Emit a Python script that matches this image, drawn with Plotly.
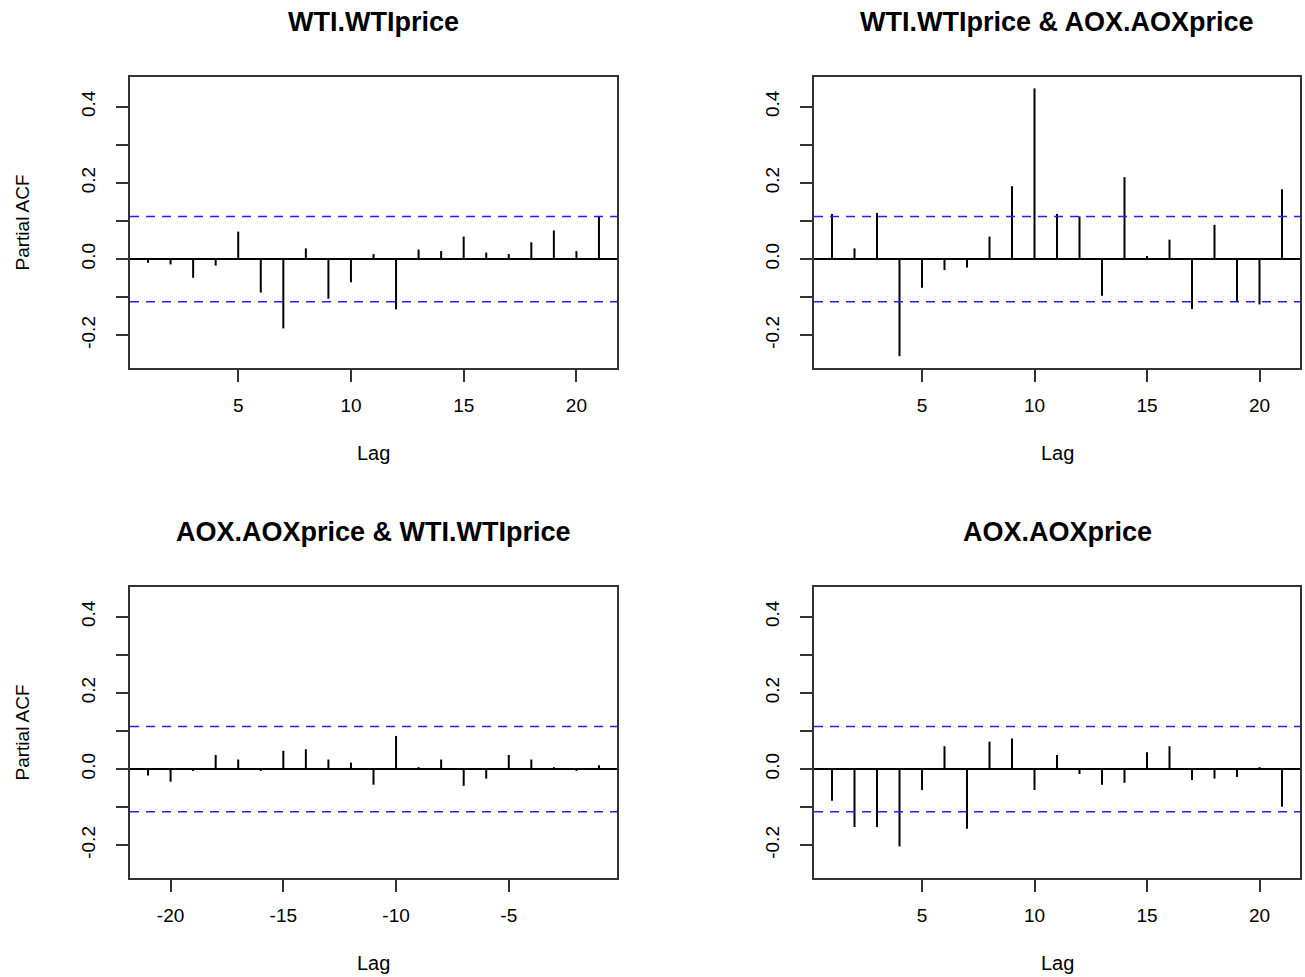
import plotly.graph_objects as go

# ---- data ----
lags_pos = list(range(1, 22))
lags_neg = list(range(-21, 0))

wti_pacf = [-0.010, -0.014, -0.049, -0.017, 0.072, -0.088, -0.182, 0.028, -0.104, -0.061,
            0.013, -0.132, 0.025, 0.021, 0.059, 0.017, 0.013, 0.044, 0.075, 0.021, 0.111]
wti_aox_pacf = [0.118, 0.028, 0.121, -0.255, -0.075, -0.029, -0.022, 0.059, 0.191, 0.448,
                0.118, 0.112, -0.096, 0.215, 0.008, 0.051, -0.131, 0.090, -0.110, -0.119, 0.183]
aox_wti_pacf = [-0.017, -0.033, -0.005, 0.037, 0.025, -0.005, 0.048, 0.052, 0.025, 0.017,
                -0.041, 0.087, 0.005, 0.025, -0.044, -0.025, 0.037, 0.025, 0.005, -0.005, 0.010]
aox_pacf = [-0.083, -0.152, -0.152, -0.203, -0.055, 0.060, -0.157, 0.072, 0.080, -0.055,
            0.037, -0.013, -0.041, -0.036, 0.044, 0.060, -0.029, -0.025, -0.021, 0.005, -0.099]

conf_limit = 0.112

titles = ["WTI.WTIprice", "WTI.WTIprice & AOX.AOXprice",
          "AOX.AOXprice & WTI.WTIprice", "AOX.AOXprice"]
ytick_vals = [-0.2, -0.1, 0.0, 0.1, 0.2, 0.3, 0.4]
ytick_text = ["-0.2", "", "0.0", "", "0.2", "", "0.4"]
xtick_pos = [5, 10, 15, 20]
xtick_pos_text = ["5", "10", "15", "20"]
xtick_neg = [-20, -15, -10, -5]
xtick_neg_text = ["-20", "-15", "-10", "-5"]

panels = [
    (lags_pos, wti_pacf, xtick_pos, xtick_pos_text, [0.2, 21.8]),
    (lags_pos, wti_aox_pacf, xtick_pos, xtick_pos_text, [0.2, 21.8]),
    (lags_neg, aox_wti_pacf, xtick_neg, xtick_neg_text, [-21.8, -0.2]),
    (lags_pos, aox_pacf, xtick_pos, xtick_pos_text, [0.2, 21.8]),
]

W, H = 1305, 977
# plot areas in pixels: (left, right, top, bottom)
boxes = [(130, 617, 77, 368), (814, 1300, 77, 368),
         (130, 617, 587, 878), (814, 1300, 587, 878)]

FONT = "Liberation Sans, Arial, sans-serif"
fig = go.Figure()
layout = dict(width=W, height=H, autosize=False,
              margin=dict(l=0, r=0, t=0, b=0),
              paper_bgcolor="white", plot_bgcolor="white",
              showlegend=False, shapes=[], annotations=[])

for i, ((lags, vals, xt, xtt, xr), (l, r, t, b)) in enumerate(zip(panels, boxes)):
    n = "" if i == 0 else str(i + 1)
    xs, ys = [], []
    for lg, v in zip(lags, vals):
        xs += [lg, lg, None]
        ys += [0, v, None]
    fig.add_trace(go.Scatter(x=xs, y=ys, mode="lines",
                             line=dict(color="black", width=2),
                             xaxis="x" + n, yaxis="y" + n, hoverinfo="skip"))
    common = dict(showgrid=False, showline=True, mirror=True, linecolor="#333333",
                  linewidth=2, ticks="outside", ticklen=12, tickwidth=1.5,
                  tickcolor="#333333",
                  tickfont=dict(family=FONT, size=19, color="black"))
    layout["xaxis" + n] = dict(common, domain=[l / W, r / W], range=xr,
                               tickvals=xt, ticktext=xtt, anchor="y" + n,
                               zeroline=False, ticklabelstandoff=7)
    layout["yaxis" + n] = dict(common, domain=[1 - b / H, 1 - t / H],
                               range=[-0.286, 0.478], tickvals=ytick_vals,
                               ticktext=ytick_text, tickangle=-90,
                               anchor="x" + n, zeroline=True,
                               zerolinecolor="black", zerolinewidth=2,
                               ticklabelstandoff=13)
    for s in (conf_limit, -conf_limit):
        layout["shapes"].append(dict(type="line", xref="x" + n + " domain", yref="y" + n,
                                     x0=0, x1=1, y0=s, y1=s,
                                     line=dict(color="#2020ff", width=1.5, dash="9px,7px")))
    cx = (l + r) / 2 / W
    layout["annotations"].append(dict(text="<b>" + titles[i] + "</b>", x=cx, y=1 - (t - 55) / H,
                                      xref="paper", yref="paper", showarrow=False,
                                      xanchor="center", yanchor="middle",
                                      font=dict(family=FONT, size=27, color="black")))
    layout["annotations"].append(dict(text="Lag", x=cx, y=1 - (b + 85) / H,
                                      xref="paper", yref="paper", showarrow=False,
                                      xanchor="center", yanchor="middle",
                                      font=dict(family=FONT, size=20, color="black")))
    if i in (0, 2):
        layout["annotations"].append(dict(text="Partial ACF", x=22 / W,
                                          y=1 - (t + b) / 2 / H,
                                          xref="paper", yref="paper", showarrow=False,
                                          xanchor="center", yanchor="middle", textangle=-90,
                                          font=dict(family=FONT, size=19, color="black")))

fig.update_layout(**layout)
fig.write_html("out.html")
